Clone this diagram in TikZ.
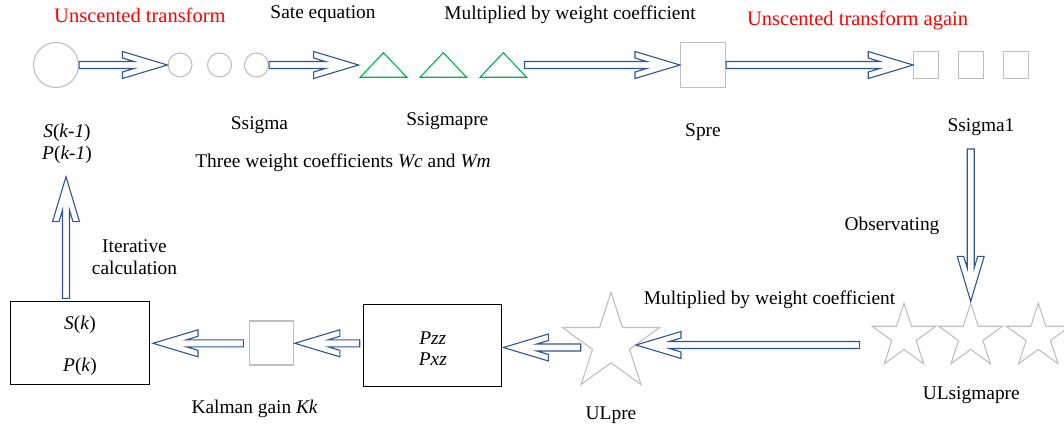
\documentclass[tikz,border=0pt]{standalone}
\usepackage{fontspec}
\setmainfont{Liberation Serif}
\usetikzlibrary{shapes.geometric,calc}
\definecolor{arrblue}{RGB}{47,85,151}
\definecolor{lgray}{RGB}{191,191,191}
\definecolor{tgreen}{RGB}{0,176,80}
\definecolor{tred}{RGB}{255,0,0}
\tikzset{
  arrowline/.style={draw=arrblue, line width=1.1pt, line join=miter},
  grayshape/.style={draw=lgray, line width=1.1pt, inner sep=0pt},
  tri/.style={draw=tgreen, line width=1.1pt, line join=miter},
  boxnode/.style={draw=black, line width=1.1pt, inner sep=0pt},
  txt/.style={inner sep=0pt, align=center},
  redtxt/.style={txt, text=tred, font=\fontsize{20.5}{24}\selectfont},
  ustar/.style={grayshape, star, star points=5, star point ratio=2.618}
}
\newcommand\harrow[3]{%
  \path let \p1=($(#2)-(#1)$) in \pgfextra{\pgfmathsetmacro\hlentmp{veclen(\x1,\y1)}\xdef\hlen{\hlentmp}};
  \begin{scope}[shift={(#2)},rotate=#3]
    \draw[arrowline] (0pt,0pt) -- (-45pt,13.5pt) -- (-45pt,7pt) -- (-33.3pt,3.5pt) -- (-\hlen pt,3.5pt) -- (-\hlen pt,-3.5pt) -- (-33.3pt,-3.5pt) -- (-45pt,-7pt) -- (-45pt,-13.5pt) -- cycle;
  \end{scope}}
\begin{document}
\begin{tikzpicture}[x=1pt,y=-1pt,font=\fontsize{19.4}{21.7}\selectfont]
\useasboundingbox (0,0) rectangle (1064,430);
\clip (0,0) rectangle (1064,430);
% top row
\node[grayshape, circle, minimum size=45pt] (bigc) at (56,65) {};
\node[grayshape, circle, minimum size=24pt] (c1) at (180,65) {};
\node[grayshape, circle, minimum size=24pt] (c2) at (219.5,65) {};
\node[grayshape, circle, minimum size=24pt] (c3) at (256.5,65) {};
\foreach \n/\cx in {t1/383.5, t2/443.3, t3/503.3}{
  \coordinate (\n) at (\cx,65);
  \draw[tri] ($(\n)+(0,-12.3)$) -- ($(\n)+(23.3,12.3)$) -- ($(\n)+(-23.3,12.3)$) -- cycle;
}
\coordinate (t1w) at (358.6,65);
\coordinate (t3e) at (524.5,65);
\node[grayshape, rectangle, minimum size=45pt] (spre) at (703,65) {};
\node[grayshape, rectangle, minimum width=24.5pt, minimum height=26.7pt] (q1) at (926,65) {};
\node[grayshape, rectangle, minimum width=24.5pt, minimum height=26.7pt] (q2) at (971,65) {};
\node[grayshape, rectangle, minimum width=24.5pt, minimum height=26.7pt] (q3) at (1015.8,65) {};
% bottom row
\node[boxnode, rectangle, minimum width=138.3pt, minimum height=82.6pt] (skbox) at (80,343) {};
\node[txt] (sk) at (80,325) {\textit{S}(\textit{k})};
\node[txt] (pk) at (80,366.7) {\textit{P}(\textit{k})};
\node[grayshape, rectangle, minimum size=44pt] (kk) at (271.2,343) {};
\node[boxnode, rectangle, minimum width=138pt, minimum height=82.4pt] (pzz) at (432.8,345.5) {};
\node[txt] at (432.8,348.5) {\textit{Pzz}\\\textit{Pxz}};
\node[ustar, minimum size=102pt] (ulpre) at (611,343.3) {};
\node[ustar, minimum size=67pt] (us1) at (904,336.6) {};
\node[ustar, minimum size=67pt] (us2) at (970.7,336.6) {};
\node[ustar, minimum size=67pt] (us3) at (1038.3,336.6) {};
% labels
\node[redtxt] at (139.9,15) {Unscented transform};
\node[txt] at (323,14) {Sate equation};
\node[txt] at (570,15) {Multiplied by weight coefficient};
\node[redtxt] at (857.6,20) {Unscented transform again};
\node[txt] (skm1) at (67,144) {\textit{S}(\textit{k-1})\\\textit{P}(\textit{k-1})};
\node[txt] at (259.5,125) {Ssigma};
\node[txt] at (447.4,121) {Ssigmapre};
\node[txt] at (343,162.3) {Three weight coefficients \textit{Wc} and \textit{Wm}};
\node[txt] at (703,131.7) {Spre};
\node[txt] (ssig1) at (981,126.7) {Ssigma1};
\node[txt] at (892,226) {Observating};
\node[txt] at (769.6,300) {Multiplied by weight coefficient};
\node[txt] at (971.3,395) {ULsigmapre};
\node[txt] at (611,415) {ULpre};
\node[txt] at (254.7,409.3) {Kalman gain \textit{Kk}};
\node[txt, font=\fontsize{19.4}{22.3}\selectfont] at (134.5,257.2) {Iterative\\calculation};
% connector end points
\coordinate (dstart) at (970.7,149);
\coordinate (sstart) at (859.6,345);
\coordinate (stip) at (636,345);
\coordinate (ustart) at (580.7,347.5);
\coordinate (utip) at (503.4,347.5);
\coordinate (pstart) at (359.7,343.3);
\coordinate (ptip) at (294.8,343.3);
\coordinate (kstart) at (243.4,343.3);
\coordinate (ktip) at (153,343.3);
\coordinate (upstart) at (66,298.3);
\coordinate (uptip) at (66,176.7);
% arrows
\harrow{bigc.east}{c1.west}{0}
\harrow{c3.east}{t1w}{0}
\harrow{t3e}{spre.west}{0}
\harrow{spre.east}{q1.west}{0}
\harrow{dstart}{us2.north}{-90}
\harrow{sstart}{stip}{180}
\harrow{ustart}{utip}{180}
\harrow{pstart}{ptip}{180}
\harrow{kstart}{ktip}{180}
\harrow{upstart}{uptip}{90}
\end{tikzpicture}
\end{document}
